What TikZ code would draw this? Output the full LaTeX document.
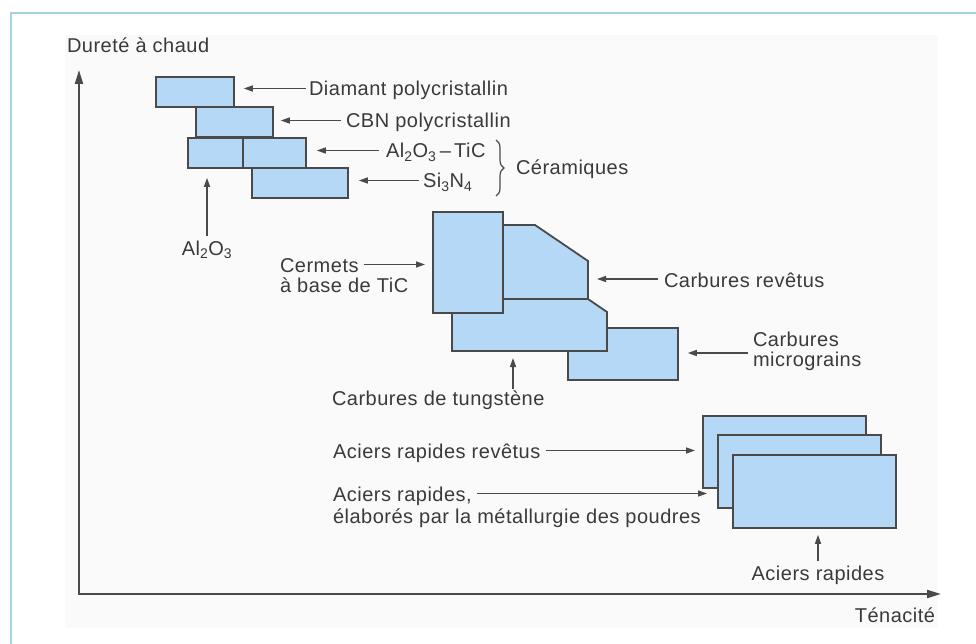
\documentclass[tikz,border=0pt]{standalone}
\usepackage{fontspec}
\setmainfont{Liberation Sans}[LetterSpace=2.5]
\usetikzlibrary{arrows.meta,decorations.pathreplacing,calc}
\definecolor{framecol}{HTML}{A3D2E2}
\definecolor{panel}{HTML}{FAFAFA}
\definecolor{boxfill}{HTML}{B4D8F5}
\definecolor{boxline}{HTML}{4A4A4A}
\definecolor{inkgrey}{HTML}{3A3A3A}
\definecolor{arrgrey}{HTML}{4A4A4A}

\begin{document}
\begin{tikzpicture}[x=1pt,y=-1pt,
  matbox/.style={draw=boxline, fill=boxfill, line width=1.8pt, line join=miter, inner sep=0pt},
  lbl/.style={text=inkgrey, font=\fontsize{20}{21}\selectfont, inner sep=0pt, outer sep=0pt},
  ptr/.style={draw=arrgrey, line width=1.4pt, -{Stealth[length=9pt,width=6pt,inset=0pt]}},
  axisline/.style={draw=boxline, line width=2pt,
    {Stealth[length=14pt,width=8pt,inset=0pt]}-{Stealth[length=14pt,width=8pt,inset=0pt]}}
]
\useasboundingbox (0,0) rectangle (976,644);
\fill[white] (0,0) rectangle (976,644);
\fill[panel] (65,35) rectangle (938,628);
\draw[framecol, line width=2pt] (11,644) -- (11,13) -- (976,13);

% axes
\coordinate (origin) at (79,594);
\coordinate (ytop) at (79,70);
\coordinate (xend) at (941,594);
\draw[axisline] (ytop) -- (origin) -- (xend);
\node[lbl, anchor=base west] (tdur) at (67,53) {Dureté à chaud};
\node[lbl, anchor=base east] (tten) at (935,622) {Ténacité};

% ceramics and superhard materials
\node[matbox, anchor=north west, minimum width=78pt, minimum height=30pt] (bdiam) at (155,76) {};
\node[matbox, anchor=north west, minimum width=77pt, minimum height=30pt] (bcbn) at (195,106) {};
\node[matbox, anchor=north west, minimum width=55pt, minimum height=30pt] (bal) at (187,137) {};
\node[matbox, anchor=north west, minimum width=63pt, minimum height=30pt] (btic) at (242,137) {};
\node[matbox, anchor=north west, minimum width=96pt, minimum height=30pt] (bsi) at (251,167) {};

\node[lbl, anchor=base west] (tdiam) at (309,96) {Diamant polycristallin};
\node[lbl, anchor=base west] (tcbn) at (346,128) {CBN polycristallin};
\node[lbl, anchor=base west] (ttic) at (386,158) {Al\textsubscript{2}O\textsubscript{3}\,--\,TiC};
\node[lbl, anchor=base west] (tsi) at (423,188) {Si\textsubscript{3}N\textsubscript{4}};
\node[lbl, anchor=base] (tal) at (207,255) {Al\textsubscript{2}O\textsubscript{3}};
\node[lbl, anchor=base west] (tcer) at (516,175) {Céramiques};

\coordinate (p1) at ([xshift=-3pt,yshift=7.5pt]tdiam.base west);
\draw[ptr, shorten >=9pt] (p1) -- (p1 -| bdiam.east);
\coordinate (p2) at ([xshift=-5pt,yshift=7.5pt]tcbn.base west);
\draw[ptr, shorten >=7pt] (p2) -- (p2 -| bcbn.east);
\coordinate (p3) at ([xshift=-7pt,yshift=7.5pt]ttic.base west);
\draw[ptr, shorten >=10pt] (p3) -- (p3 -| btic.east);
\coordinate (p4) at ([xshift=-4pt,yshift=7.5pt]tsi.base west);
\draw[ptr, shorten >=10pt] (p4) -- (p4 -| bsi.east);
\draw[ptr, shorten >=9pt] ([yshift=5pt]tal.north) -- (tal.north |- bal.south);

\coordinate (brtop) at (496,140);
\coordinate (brbot) at (496,196);
\draw[arrgrey, line width=1.2pt, decorate, decoration={brace, amplitude=8pt}] (brtop) -- (brbot);

% carbides and cermets
\node[matbox, anchor=north west, minimum width=110pt, minimum height=52pt] (bmg) at (567,327) {};
\coordinate (wbase) at (452,351);
\draw[matbox] (452,299) -- (588,299) -- (607,312) -- (607,351) -- (wbase) -- cycle;
\coordinate (revside) at (588,280);
\draw[matbox] (502,225) -- (535,225) -- (588,261) -- (588,299) -- (502,299) -- cycle;
\node[matbox, anchor=north west, minimum width=70pt, minimum height=101pt] (bcm) at (432,211) {};

\node[lbl, anchor=base west] (tcm1) at (280,272) {Cermets};
\node[lbl, anchor=base west] (tcm2) at (280,292) {à base de TiC};
\node[lbl, anchor=base west] (trev) at (664,287) {Carbures revêtus};
\node[lbl, anchor=base west] (tmg1) at (753,346) {Carbures};
\node[lbl, anchor=base west] (tmg2) at (753,366) {micrograins};
\node[lbl, anchor=base west] (ttun) at (332,405) {Carbures de tungstène};

\coordinate (q1) at ([xshift=5pt,yshift=7.5pt]tcm1.base east);
\draw[ptr, shorten >=7pt] (q1) -- (q1 -| bcm.west);
\coordinate (p5) at ([xshift=-6pt,yshift=8pt]trev.base west);
\draw[ptr, shorten >=9pt] (p5) -- (p5 -| revside);
\coordinate (p6) at ([xshift=-5pt,yshift=-7pt]tmg1.base west);
\draw[ptr, shorten >=9pt] (p6) -- (p6 -| bmg.east);
\coordinate (wtail) at (513,389);
\draw[ptr, shorten >=7pt] (wtail) -- (wtail |- wbase);

% high-speed steels
\node[matbox, anchor=north west, minimum width=163pt, minimum height=72pt] (bhs1) at (702,415) {};
\node[matbox, anchor=north west, minimum width=163pt, minimum height=73pt] (bhs2) at (717,434) {};
\node[matbox, anchor=north west, minimum width=163pt, minimum height=73pt] (bhs3) at (732,454) {};

\node[lbl, anchor=base west] (tarv) at (333,458) {Aciers rapides revêtus};
\node[lbl, anchor=base west] (tap1) at (333,501) {Aciers rapides,};
\node[lbl, anchor=base west] (tap2) at (333,523) {élaborés par la métallurgie des poudres};
\node[lbl, anchor=base] (tar) at (818,580) {Aciers rapides};

\coordinate (q2) at ([xshift=6pt,yshift=7.5pt]tarv.base east);
\draw[ptr, shorten >=7pt] (q2) -- (q2 -| bhs1.west);
\coordinate (q3) at ([xshift=5pt,yshift=7.5pt]tap1.base east);
\draw[ptr, shorten >=10pt] (q3) -- (q3 -| bhs2.west);
\draw[ptr, shorten >=6pt] ([yshift=5pt]tar.north) -- (tar.north |- bhs3.south);
\end{tikzpicture}
\end{document}
